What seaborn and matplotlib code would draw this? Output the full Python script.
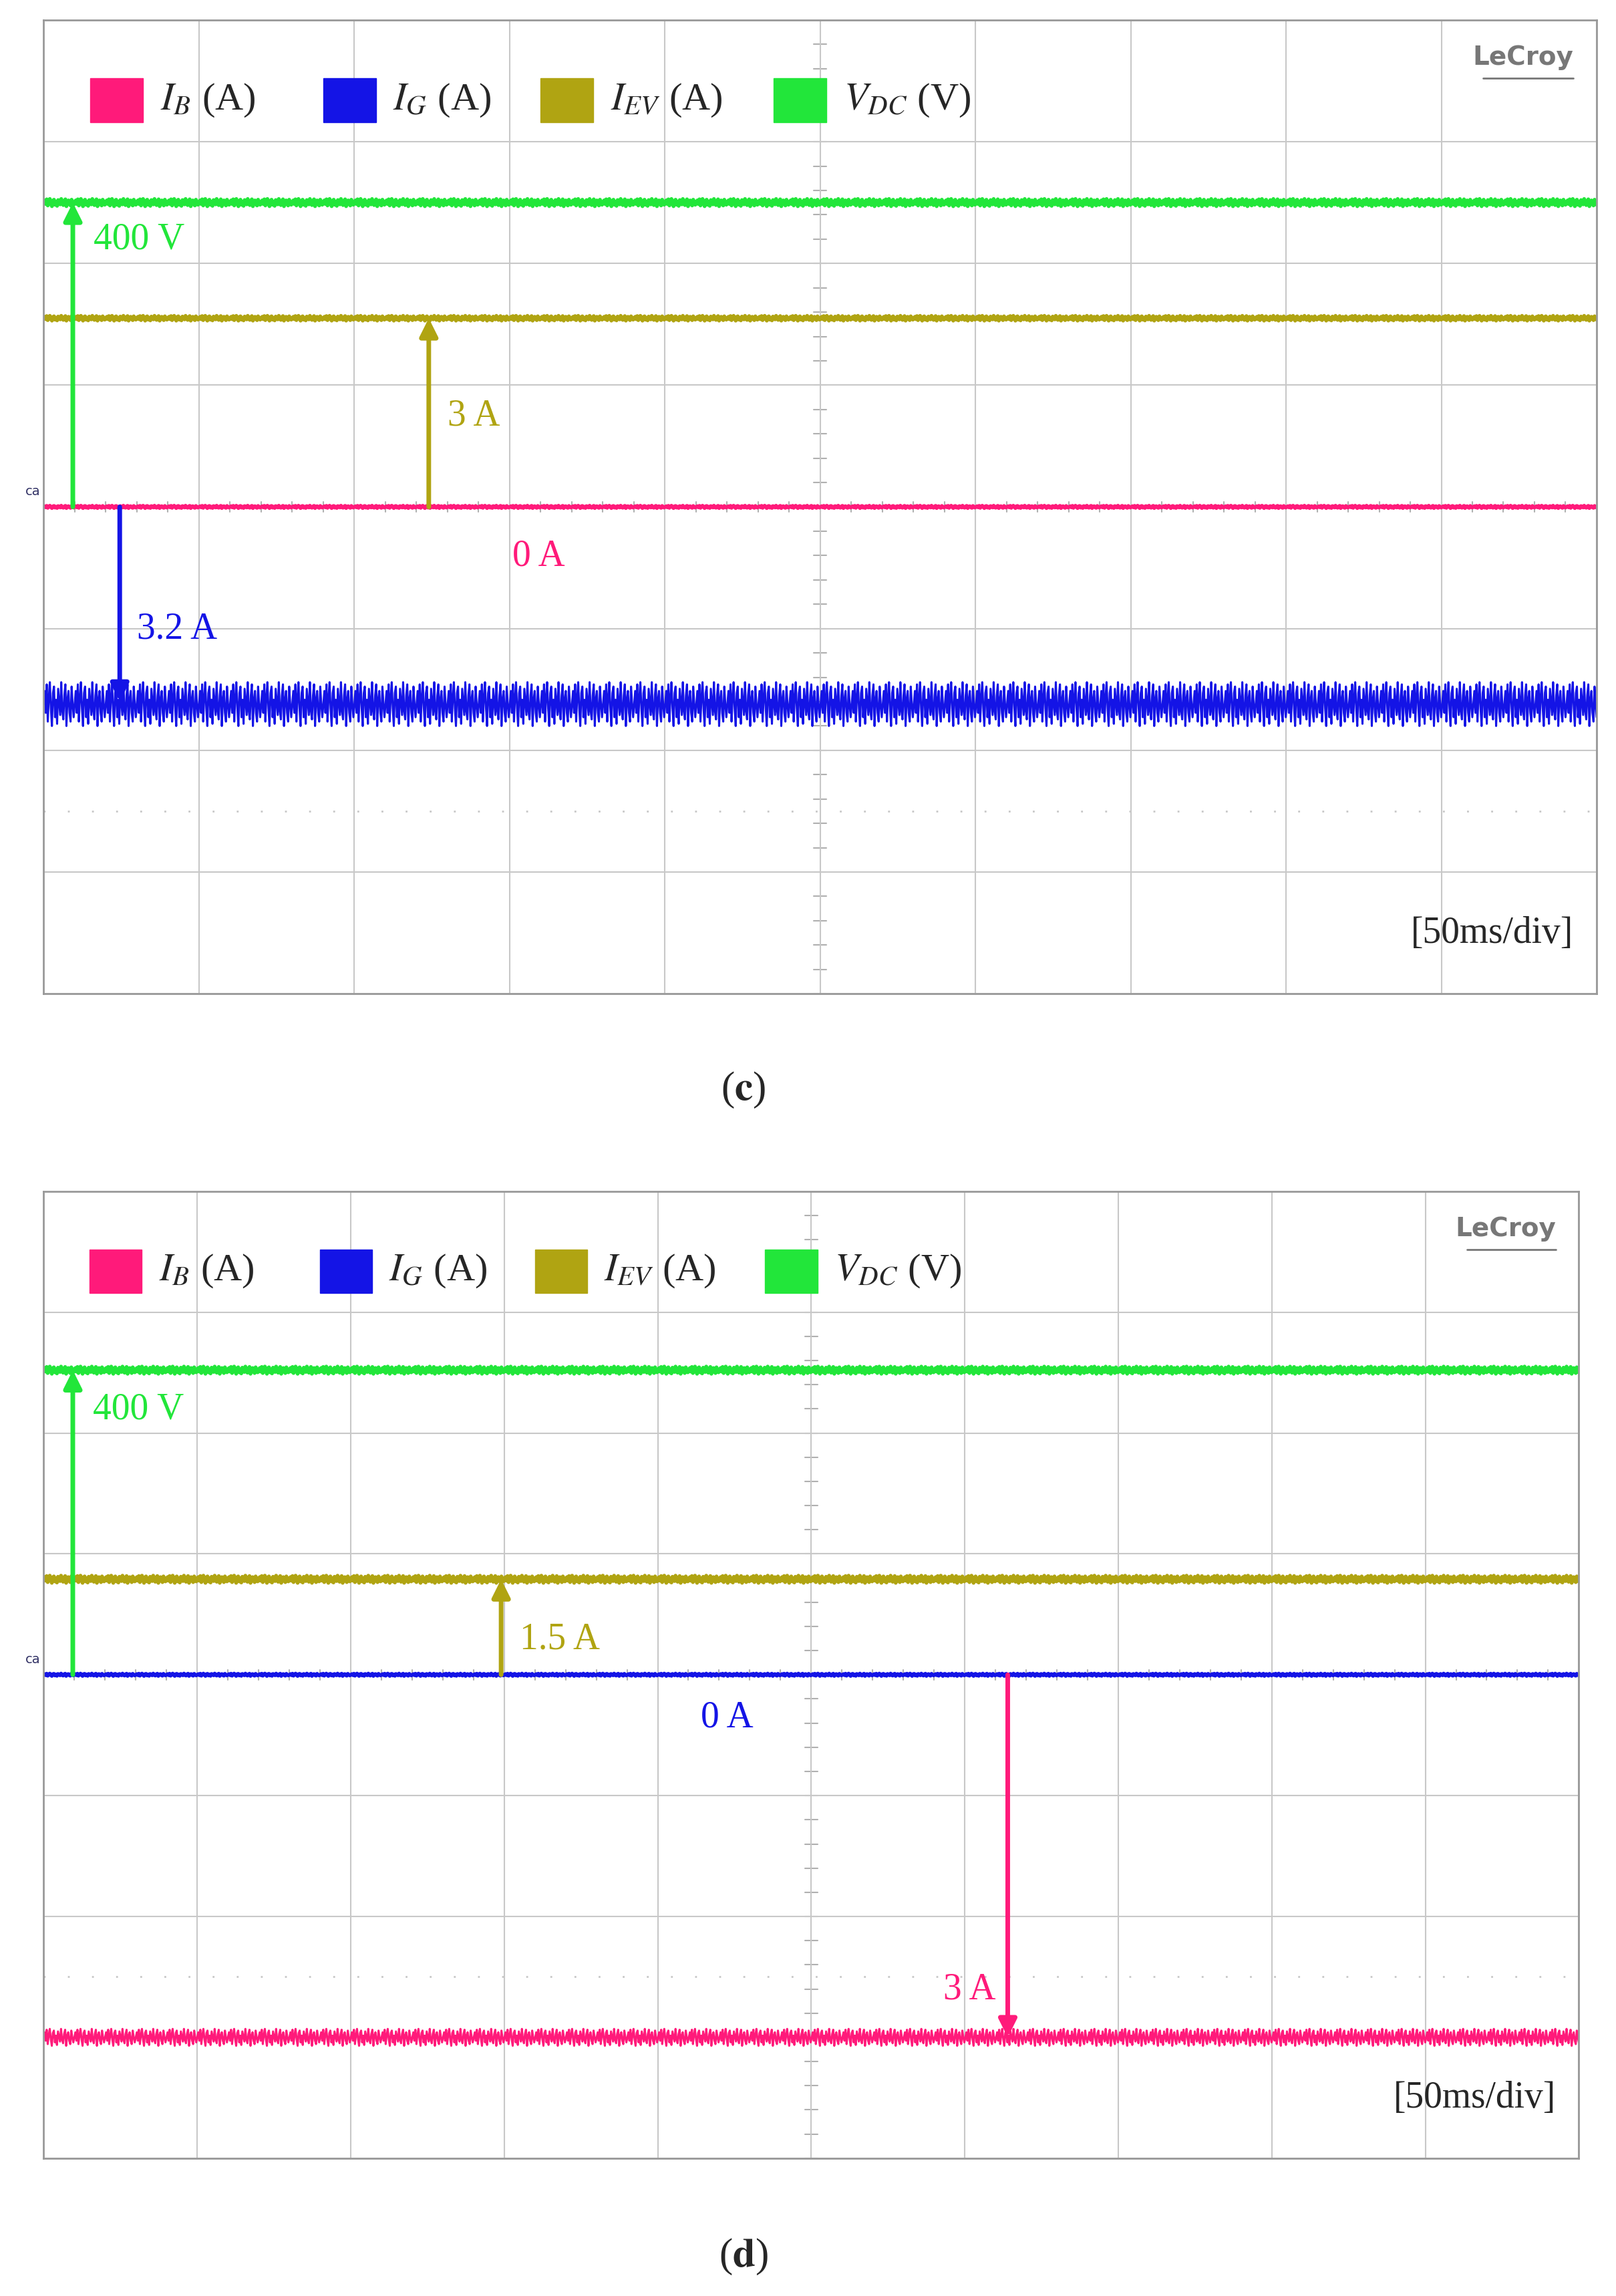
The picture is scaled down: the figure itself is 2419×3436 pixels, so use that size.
import numpy as np
import pandas as pd
import matplotlib.pyplot as plt
import seaborn as sns

# scope settings: 10 div x 50 ms, 8 vertical divisions, zero level at div 4
time_ms = np.linspace(0, 500, 1500)
zero_div = 4.0

# trace levels (in divisions)
names = ["I_B", "I_G", "I_EV", "V_DC"]
colors = ["#ff1a7a", "#1414e6", "#b0a412", "#22e63a"]
levels_c = [4.0, 2.38, 5.55, 6.5]
levels_d = [1.0, 4.0, 4.79, 6.52]
# ripple amplitude (div) per trace
ripple_c = [0.01, 0.18, 0.02, 0.03]
ripple_d = [0.07, 0.01, 0.03, 0.03]
# hand-read ripple shape of one period, repeated along the trace
ripple_shape = [0.0, 0.6, -0.4, 0.9, -0.8, 0.3, 1.0, -0.2, -1.0, 0.5,
                0.8, -0.6, 0.2, -0.9, 0.7, 0.1, -0.5, 1.0, -0.3, -0.7,
                0.4, 0.9, -1.0, 0.2, 0.6, -0.4, -0.8, 0.8, 0.0, -0.6]

legend_labels = [r"$I_B$ (A)", r"$I_G$ (A)", r"$I_{EV}$ (A)", r"$V_{DC}$ (V)"]

sns.set_style("white")
plt.rcParams["mathtext.fontset"] = "stix"
plt.rcParams["font.family"] = ["Liberation Serif", "DejaVu Serif"]

fig = plt.figure(figsize=(24.19, 34.37), dpi=100)
ax_c = fig.add_axes([0.027, 0.567, 0.961, 0.424])
ax_d = fig.add_axes([0.027, 0.060, 0.950, 0.421])


def draw_panel(ax, levels, ripples, order):
    pat = np.resize(np.array(ripple_shape), len(time_ms))
    for i in order:
        df = pd.DataFrame({"t": time_ms, "v": levels[i] + ripples[i] * pat})
        sns.lineplot(data=df, x="t", y="v", ax=ax, color=colors[i],
                     lw=4 if ripples[i] < 0.05 else 2.2, estimator=None)
    ax.set_xlim(0, 500)
    ax.set_ylim(0, 8)
    ax.set_xticks(np.arange(0, 501, 50))
    ax.set_yticks(np.arange(0, 9, 1))
    ax.set_xticklabels([])
    ax.set_yticklabels([])
    ax.set_xlabel("")
    ax.set_ylabel("")
    ax.tick_params(length=0)
    ax.grid(True, color="#c8c8c8", lw=1.5)
    ax.set_axisbelow(True)
    for s in ax.spines.values():
        s.set_color("#999999")
        s.set_linewidth(2)
    ax.axhline(1.5, color="#c8c8c8", lw=2, ls=(0, (1, 12)), zorder=0)
    # centre graticule ticks
    for k in np.arange(0, 8.01, 0.2):
        ax.plot([248, 252], [k, k], color="#b0b0b0", lw=1.5, zorder=0)
    for k in np.arange(0, 500.1, 10):
        ax.plot([k, k], [3.96, 4.04], color="#b0b0b0", lw=1.5, zorder=0)
    ax.text(0.985, 0.975, "LeCroy", transform=ax.transAxes, ha="right", va="top",
            fontsize=28, color="#777777", family="DejaVu Sans",
            fontweight="bold")
    ax.plot([0.927, 0.985], [0.94, 0.94], transform=ax.transAxes,
            color="#777777", lw=2)
    ax.text(-0.012, zero_div + 0.1, "ca", transform=ax.get_yaxis_transform(),
            fontsize=14, color="#333366", family="DejaVu Sans")
    ax.text(0.985, 0.045, "[50ms/div]", transform=ax.transAxes, ha="right",
            va="bottom", fontsize=40)
    # legend
    xs = [0.03, 0.18, 0.32, 0.47]
    for x, c, lab in zip(xs, colors, legend_labels):
        ax.add_patch(plt.Rectangle((x, 0.895), 0.034, 0.045, color=c,
                                   transform=ax.transAxes, clip_on=False))
        ax.text(x + 0.045, 0.918, lab, transform=ax.transAxes, va="center",
                fontsize=42)


def arrow(ax, x, y0, y1, c):
    ax.annotate("", xy=(x, y1), xytext=(x, y0),
                arrowprops=dict(arrowstyle="-|>", color=c, lw=5,
                                mutation_scale=40, shrinkA=0, shrinkB=0))


draw_panel(ax_c, levels_c, ripple_c, [0, 2, 3, 1])
arrow(ax_c, 9.4, 4.0, 6.5, colors[3])
ax_c.text(16, 6.2, "400 V", color=colors[3], fontsize=40, va="center")
arrow(ax_c, 124, 4.0, 5.55, colors[2])
ax_c.text(130, 4.75, "3 A", color=colors[2], fontsize=40, va="center")
ax_c.text(151, 3.6, "0 A", color=colors[0], fontsize=40, va="center")
arrow(ax_c, 24.5, 4.0, 2.4, colors[1])
ax_c.text(30, 3.0, "3.2 A", color=colors[1], fontsize=40, va="center")

draw_panel(ax_d, levels_d, ripple_d, [0, 2, 3, 1])
arrow(ax_d, 9.5, 4.0, 6.52, colors[3])
ax_d.text(16, 6.2, "400 V", color=colors[3], fontsize=40, va="center")
arrow(ax_d, 149, 4.0, 4.79, colors[2])
ax_d.text(155, 4.3, "1.5 A", color=colors[2], fontsize=40, va="center")
ax_d.text(214, 3.65, "0 A", color=colors[1], fontsize=40, va="center")
arrow(ax_d, 314, 4.0, 1.0, colors[0])
ax_d.text(310, 1.4, "3 A", color=colors[0], fontsize=40, va="center", ha="right")

fig.text(0.46, 1 - 745 / 1570, r"($\mathbf{c}$)", ha="center", va="center",
         fontsize=44)
fig.text(0.46, 1 - 1543 / 1570, r"($\mathbf{d}$)", ha="center", va="center",
         fontsize=44)

fig.savefig("out.png", dpi=100)
